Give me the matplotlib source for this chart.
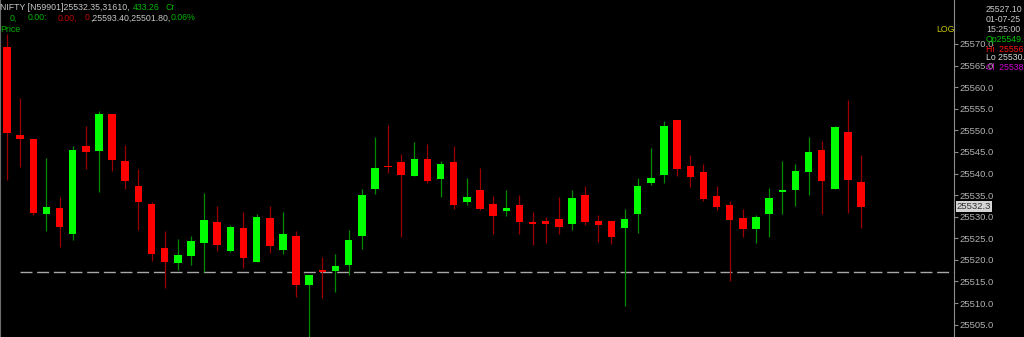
import numpy as np
import matplotlib
matplotlib.use('Agg')
import matplotlib.pyplot as plt

# OHLC of the visible 5-minute candles
opens = [25569.4, 25548.9, 25548.0, 25530.6, 25532.1, 25526.0, 25546.3, 25545.2, 25553.7, 25542.9,
         25537.0, 25533.0, 25522.7, 25519.3, 25520.8, 25523.9, 25528.7, 25522.1, 25527.5, 25519.6,
         25529.6, 25522.3, 25525.6, 25514.2, 25517.5, 25517.4, 25518.8, 25525.5, 25536.4, 25541.7,
         25542.7, 25539.4, 25543.4, 25538.7, 25542.7, 25533.5, 25536.1, 25533.0, 25531.4, 25532.6,
         25528.8, 25528.9, 25529.5, 25528.2, 25535.0, 25528.9, 25529.1, 25527.4, 25530.7, 25537.9,
         25539.7, 25552.3, 25541.8, 25540.4, 25534.8, 25532.8, 25529.8, 25527.1, 25530.7, 25535.7,
         25536.2, 25540.4, 25545.4, 25536.4, 25549.6, 25538.1]
highs = [25572.4, 25557.6, 25548.0, 25543.6, 25534.5, 25546.3, 25551.0, 25554.4, 25553.8, 25546.7,
         25541.1, 25533.4, 25526.8, 25524.8, 25525.6, 25535.5, 25532.5, 25528.1, 25531.2, 25530.6,
         25532.5, 25531.1, 25526.7, 25516.5, 25520.7, 25521.4, 25527.0, 25536.5, 25548.5, 25551.3,
         25544.6, 25547.3, 25546.9, 25542.9, 25546.4, 25538.9, 25541.3, 25534.7, 25536.1, 25535.0,
         25531.0, 25529.9, 25534.5, 25536.2, 25537.0, 25530.3, 25529.1, 25531.8, 25539.0, 25545.8,
         25552.2, 25552.3, 25544.3, 25542.1, 25537.1, 25533.7, 25531.9, 25530.4, 25536.6, 25543.0,
         25542.1, 25548.5, 25547.5, 25551.0, 25557.1, 25544.3]
lows = [25538.5, 25541.6, 25530.4, 25526.7, 25522.9, 25524.6, 25541.0, 25535.7, 25540.6, 25536.4,
        25526.9, 25519.8, 25513.6, 25517.7, 25518.8, 25517.2, 25522.1, 25521.8, 25518.1, 25519.4,
        25521.7, 25521.4, 25511.5, 25501.8, 25511.2, 25512.5, 25516.4, 25522.6, 25535.3, 25540.1,
        25525.2, 25539.4, 25537.7, 25534.5, 25531.9, 25532.7, 25531.6, 25526.1, 25530.1, 25525.9,
        25523.4, 25523.9, 25525.9, 25526.9, 25528.0, 25524.2, 25523.7, 25509.4, 25526.3, 25537.3,
        25537.8, 25539.4, 25536.9, 25533.6, 25531.6, 25515.1, 25525.3, 25524.0, 25525.3, 25530.6,
        25532.5, 25535.0, 25530.6, 25536.4, 25530.8, 25527.3]
closes = [25549.3, 25548.1, 25530.8, 25532.3, 25527.6, 25545.5, 25545.0, 25553.7, 25543.1, 25538.3,
          25533.3, 25521.4, 25519.4, 25521.1, 25524.4, 25529.2, 25523.4, 25527.7, 25520.5, 25529.9,
          25523.2, 25526.0, 25514.2, 25516.5, 25517.3, 25518.5, 25524.6, 25535.0, 25541.2, 25541.4,
          25539.6, 25543.4, 25538.3, 25542.2, 25532.8, 25534.5, 25531.9, 25530.2, 25532.0, 25528.8,
          25528.4, 25528.3, 25527.7, 25534.4, 25528.7, 25528.0, 25525.4, 25529.5, 25537.0, 25539.0,
          25551.0, 25541.1, 25539.2, 25534.2, 25532.2, 25529.3, 25527.1, 25529.9, 25534.4, 25536.3,
          25540.6, 25545.1, 25538.2, 25550.8, 25538.5, 25532.3]

support_level = 25517.2
last_price = 25532.3
y_ticks = list(range(25505, 25571, 5))

header_parts = [
    # (text, color, x px, y px)
    ("NIFTY [N59901]25532.35,31610,", '#c8c8c8', 0, 7),
    ("433.26", '#00b400', 133, 7),
    ("Cr", '#00b400', 166, 7),
    ("0,", '#00b400', 10, 18),
    ("0.00:", '#00b400', 28, 18),
    ("0.00,", '#c00000', 58, 18),
    ("0", '#c00000', 85, 18),
    (",25593.40,25501.80,", '#c8c8c8', 90, 18),
    ("0.06%", '#00b400', 171, 18),
    ("Price", '#00b400', 0, 29),
]
info_parts = [
    ("25527.10", '#c8c8c8', 986, 9),
    ("01-07-25", '#c8c8c8', 986, 19),
    ("15:25:00", '#c8c8c8', 986, 29),
    ("Op25549.", '#00c000', 986, 40),
    ("Hi  25556", '#ff1010', 986, 49),
    ("Lo 25530.", '#d8d8d8', 986, 58),
    ("Cl  25538", '#d000d0', 986, 68),
    ("LOG", '#c8c800', 936, 29),
]

W, H = 1024, 337
plt.rcParams['font.family'] = ['Liberation Sans', 'DejaVu Sans']
plt.rcParams['lines.scale_dashes'] = False

fig = plt.figure(figsize=(W / 100, H / 100), dpi=100, facecolor='black')
ax = fig.add_axes([0, 0, 954 / W, 1])
ax.set_facecolor('black')

x = np.arange(len(opens))
o = np.array(opens)
c = np.array(closes)
up = c >= o
body_col = np.where(up, '#00ff00', '#ff0000')
wick_col = np.where(up, '#008c00', '#9a0000')

ax.vlines(x, lows, highs, colors=wick_col, linewidth=0.9, zorder=2)
bottoms = np.minimum(o, c)
heights = np.maximum(np.abs(c - o), 0.3)
ax.bar(x, heights, bottom=bottoms, width=0.57, color=body_col, linewidth=0, zorder=3)

ax.hlines(support_level, 1.0, 72.1, colors='#a8a8a8', linewidth=1.0,
          linestyles=(0, (8.6, 3.4)), zorder=1)

ax.set_xlim(-0.53, 72.07)
ax.set_ylim(25502.14, 25580.19)

ax.yaxis.tick_right()
ax.set_yticks(y_ticks)
ax.set_yticklabels([f'{t:.1f}' for t in y_ticks])
ax.tick_params(axis='y', colors='#8c8c8c', labelcolor='#b0b0b0', labelsize=6.8,
               length=3, width=0.8, pad=1)
ax.set_xticks([])
for side in ['top', 'bottom']:
    ax.spines[side].set_visible(False)
ax.spines['right'].set_color('#8c8c8c')
ax.spines['left'].set_color('#6e6e6e')

# last price marker on the axis
ax.annotate(f'{last_price:.1f}', xy=(1.0, last_price), xycoords=('axes fraction', 'data'),
            xytext=(2, 0), textcoords='offset points', va='center', ha='left',
            fontsize=6.8, color='#303030', annotation_clip=False,
            bbox=dict(boxstyle='square,pad=0.12', fc='#d4d4d4', ec='none'))

for txt, col, px, py in header_parts + info_parts:
    fig.text(px / W, 1 - py / H, txt, color=col, fontsize=6.3, ha='left', va='center')

fig.savefig('out.png', dpi=100, facecolor='black')
